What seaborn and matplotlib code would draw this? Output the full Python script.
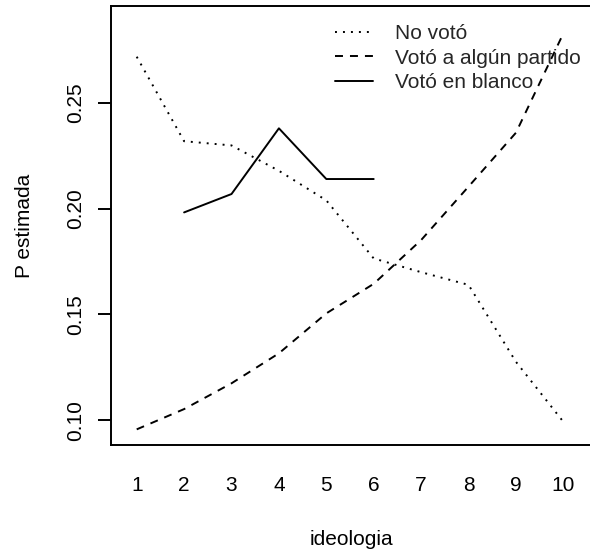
import matplotlib
matplotlib.use("Agg")
import matplotlib.pyplot as plt
import seaborn as sns
import pandas as pd

ideologia = [1, 2, 3, 4, 5, 6, 7, 8, 9, 10]
no_voto = [0.272, 0.232, 0.230, 0.218, 0.204, 0.1765, 0.170, 0.164, 0.1276, 0.0992]
voto_partido = [0.0956, 0.1052, 0.1174, 0.1316, 0.1505, 0.1645, 0.1852, 0.2105, 0.236, 0.283]
ideologia_blanco = [2, 3, 4, 5, 6]
voto_blanco = [0.1983, 0.2070, 0.2381, 0.2141, 0.2141]

series = [
    ("No votó", ideologia, no_voto, (1, 3.1)),
    ("Votó a algún partido", ideologia, voto_partido, (4.1, 3.6)),
    ("Votó en blanco", ideologia_blanco, voto_blanco, None),
]

sns.set_theme(style="white")
plt.rcParams["font.family"] = ["Liberation Sans", "DejaVu Sans"]

W, H = 590, 552
fig = plt.figure(figsize=(W / 100, H / 100), dpi=100)
left, top, right, bottom = 110.7, 6, 592, 445
ax = fig.add_axes([left / W, 1 - bottom / H, (right - left) / W, (bottom - top) / H])

lw = 1.4
for name, xs, ys, dash in series:
    df = pd.DataFrame({"ideologia": xs, "p": ys})
    line_ax = sns.lineplot(data=df, x="ideologia", y="p", ax=ax, color="black",
                           linewidth=lw, label=name)
    ln = line_ax.get_lines()[-1]
    if dash is not None:
        ln.set_dashes(dash)
        ln.set_dash_capstyle("butt")

ax.set_xlim(0.4515, 10.605)
ax.set_ylim(0.0882, 0.296)
ax.set_xticks(ideologia)
ax.set_xticklabels([str(v) for v in ideologia])
ax.set_yticks([0.10, 0.15, 0.20, 0.25])
ax.set_yticklabels(["0.10", "0.15", "0.20", "0.25"], rotation=90, va="center")

for s in ["left", "top", "bottom"]:
    ax.spines[s].set_color("black")
    ax.spines[s].set_linewidth(1.4)
ax.spines["right"].set_visible(False)

fs = 15
ax.tick_params(axis="x", length=0, pad=22, labelsize=fs, colors="black")
ax.tick_params(axis="y", left=True, length=9.4, width=1.4, pad=9, labelsize=fs, colors="black")
ax.set_xlabel("ideologia", fontsize=fs, labelpad=25.5, color="black")
ax.set_ylabel("P estimada", fontsize=fs, labelpad=23.4, color="black")

leg = ax.legend(loc="upper left", bbox_to_anchor=(335 / W, 1 - 24 / H),
                bbox_transform=fig.transFigure, frameon=False, fontsize=fs,
                handlelength=1.82, handletextpad=1.05, labelspacing=0.27,
                borderpad=0, borderaxespad=0)

fig.savefig("out.png", dpi=100)
